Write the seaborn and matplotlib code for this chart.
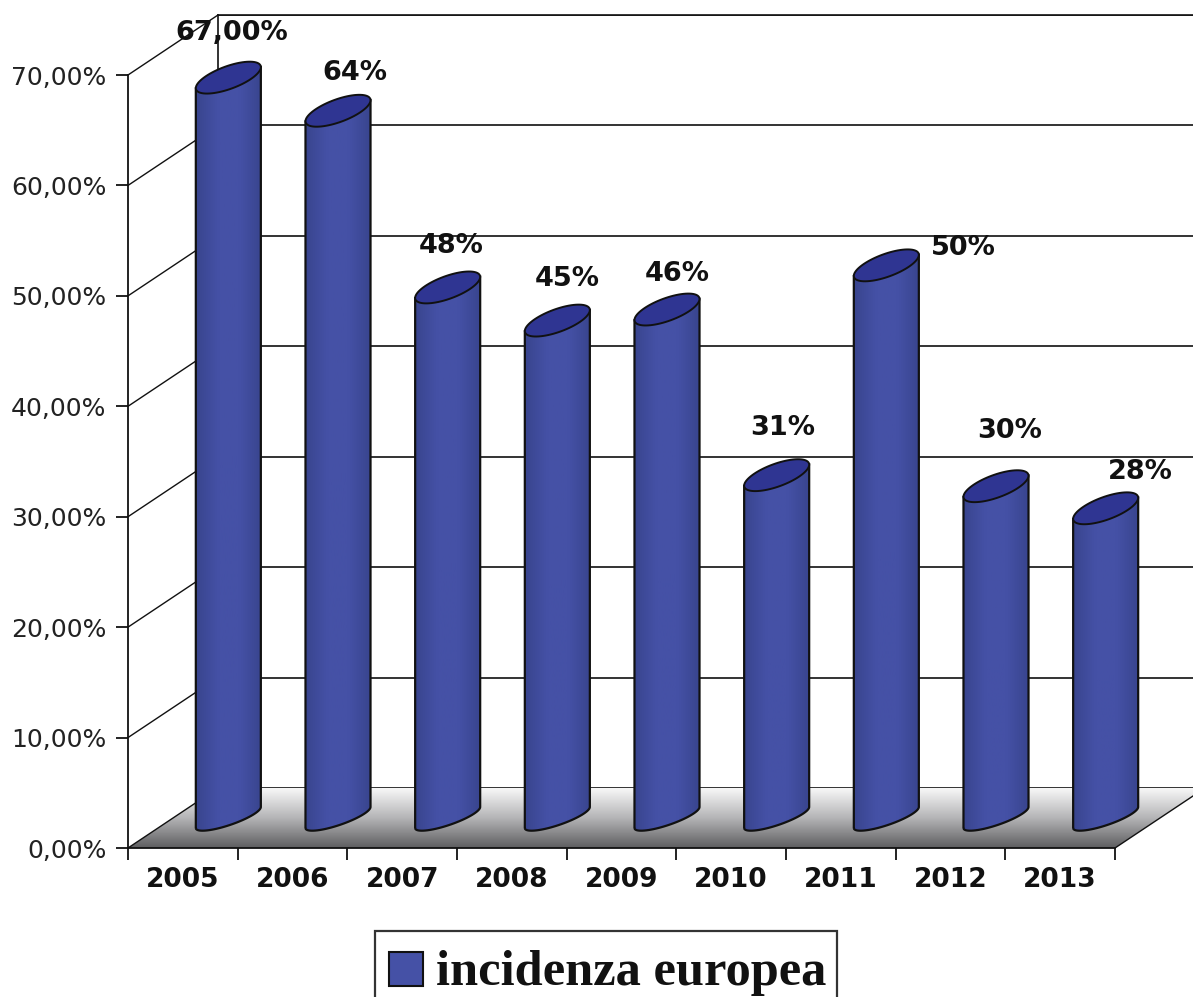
import numpy as np
import pandas as pd
import matplotlib
matplotlib.use("Agg")
import matplotlib.pyplot as plt
from matplotlib.colors import LinearSegmentedColormap
from matplotlib.patches import Patch, PathPatch, Polygon, Rectangle
from matplotlib.path import Path
import seaborn as sns

# DATA
years = ["2005", "2006", "2007", "2008", "2009", "2010", "2011", "2012", "2013"]
incidenza = [67, 64, 48, 45, 46, 31, 50, 30, 28]
bar_labels = ["67,00%", "64%", "48%", "45%", "46%", "31%", "50%", "30%", "28%"]
y_ticks = [0, 10, 20, 30, 40, 50, 60, 70]
y_tick_labels = ["0,00%", "10,00%", "20,00%", "30,00%", "40,00%", "50,00%", "60,00%", "70,00%"]
series_name = "incidenza europea"

# label offsets from the top middle of each bar, in pixels
label_dx = [3, 17, 4, 10, 10, 6, 77, 14, 35]
label_dy = [55, 48, 52, 52, 46, 58, 28, 66, 47]

W, H = 1193, 997
L, T, PW, PH = 128, 75, 987, 773   # front plane of the chart, in pixels
WALL_DX, WALL_DY = 90, 60          # back wall offset
BAR_DX, BAR_DY = 45.5, 20          # bars stand in the middle of the floor
SHEAR, CAP_B, BASE_B = 21, 12, 8   # tilt of the cylinder caps

BODY_EDGE, BODY_MID, CAP = "#39458f", "#4551a6", "#2f3592"
DARK = "#111111"

df = pd.DataFrame({"year": years, "incidenza": incidenza})

sns.set_theme(style="white")
plt.rcParams["font.family"] = ["DejaVu Sans"]

fig = plt.figure(figsize=(W / 100, H / 100), dpi=100)


def add_ax(left, top, width, height):
    ax = fig.add_axes([left / W, 1 - (top + height) / H, width / W, height / H])
    ax.patch.set_alpha(0)
    return ax


# back wall with the grid lines
wall = add_ax(L + WALL_DX, T - WALL_DY, PW, PH)
wall.set_xlim(-0.5, 8.5)
wall.set_ylim(0, 70)
wall.set_yticks(y_ticks)
wall.set_xticks([])
wall.tick_params(left=False, labelleft=False)
wall.grid(axis="y", color=DARK, lw=1.2)
wall.grid(axis="x", visible=False)
for side in wall.spines:
    wall.spines[side].set_visible(side in ["left", "top"])
    wall.spines[side].set_color(DARK)
    wall.spines[side].set_linewidth(1.2)

# floor, side wall diagonals and legend box, drawn in pixels
canvas = add_ax(0, 0, W, H)
canvas.set_xlim(0, W)
canvas.set_ylim(H, 0)
canvas.set_axis_off()
floor = Polygon([(L, T + PH), (L + WALL_DX, T + PH - WALL_DY), (L + PW + WALL_DX, T + PH - WALL_DY), (L + PW, T + PH)],
                closed=True, transform=canvas.transData, fc="none", ec="none")
canvas.add_patch(floor)
floor_cmap = LinearSegmentedColormap.from_list("floor", ["#f7f7f7", "#b4b4b6", "#5f5f61"])
img = canvas.imshow(np.linspace(0, 1, 64).reshape(-1, 1), cmap=floor_cmap, aspect="auto",
                    extent=(L, L + PW + WALL_DX, T + PH, T + PH - WALL_DY))
img.set_clip_path(floor)
canvas.set_xlim(0, W)
canvas.set_ylim(H, 0)
for v in y_ticks:
    y0 = T + PH - v * PH / 70
    canvas.plot([L, L + WALL_DX], [y0, y0 - WALL_DY], color=DARK, lw=1.0)
canvas.plot([L + PW, L + PW + WALL_DX], [T + PH, T + PH - WALL_DY], color=DARK, lw=1.0)
canvas.add_patch(Rectangle((375, 931), 462, 100, fc="white", ec="#333333", lw=1.6))

# front axes: only the ticks and the labels
front = add_ax(L, T, PW, PH)
front.set_xlim(-0.5, 8.5)
front.set_ylim(0, 70)
front.set_yticks(y_ticks)
front.set_yticklabels(y_tick_labels, fontsize=18, color="#222222")
front.set_xticks(np.arange(10) - 0.5)
front.set_xticklabels([])
front.set_xticks(range(9), years, minor=True, fontsize=19, fontweight="bold", color="#111111")
front.tick_params(axis="both", which="major", length=8.6, width=1.3, color=DARK, bottom=True, left=True)
front.tick_params(axis="y", pad=7)
front.tick_params(axis="x", which="minor", length=0, pad=13.5)
for side in front.spines:
    front.spines[side].set_visible(side in ["left", "bottom"])
    front.spines[side].set_color(DARK)
    front.spines[side].set_linewidth(1.3)

# bars
ax = add_ax(L + BAR_DX, T - BAR_DY, PW, PH)
sns.barplot(data=df, x="year", y="incidenza", color=BODY_MID, saturation=1, width=0.593, ax=ax)
ax.set_axis_off()
ax.set_autoscale_on(False)
ax.set_xlim(-0.5, 8.5)
ax.set_ylim(0, 70)

px_y = 70 / PH
dy = SHEAR * px_y
t_low = np.linspace(np.pi, 2 * np.pi, 40)
t_up = np.linspace(0, np.pi, 40)
grad_cmap = LinearSegmentedColormap.from_list("body", [BODY_EDGE, BODY_MID, BODY_MID, BODY_EDGE])

for i, rect in enumerate(list(ax.patches)):
    x0, w, h = rect.get_x(), rect.get_width(), rect.get_height()
    xm = x0 + w / 2


    def cap_x(t):
        return xm + w / 2 * np.cos(t)


    def cap_y(t, base, b):
        return base + dy / 2 + dy / 2 * np.cos(t) + b * px_y * np.sin(t)


    # cylinder outline, the rectangle from seaborn is clipped to it
    body_xy = np.vstack([
        np.column_stack([cap_x(t_low), cap_y(t_low, 0, BASE_B)]),
        [[x0 + w, h + dy], [x0, h]],
    ])
    body = PathPatch(Path(np.vstack([body_xy, body_xy[0]])), fc="none", ec=DARK, lw=1.6, clip_on=False, zorder=4)
    ax.add_patch(body)
    rect.set_clip_path(body)
    grad = ax.imshow(np.linspace(0, 1, 32).reshape(1, -1), cmap=grad_cmap, aspect="auto",
                     extent=(x0, x0 + w, -3, h + dy), zorder=3)
    grad.set_clip_box(fig.bbox)   # the base hangs below y=0
    grad.set_clip_path(body)

    t_all = np.concatenate([t_low, t_up])
    cap = Polygon(np.column_stack([cap_x(t_all), cap_y(t_all, h, CAP_B)]), closed=True, fc=CAP, ec=DARK, lw=1.4,
                  clip_on=False, zorder=5)
    ax.add_patch(cap)

    ax.annotate(bar_labels[i], (xm, h), xytext=(label_dx[i] * 0.72, label_dy[i] * 0.72),
                textcoords="offset points", ha="center", va="center", fontsize=19.5,
                fontweight="bold", color="#111111", zorder=6, annotation_clip=False)

ax.set_xlim(-0.5, 8.5)
ax.set_ylim(0, 70)

# the legend box runs off the bottom of the picture, as in the original
handle = Patch(facecolor=BODY_MID, edgecolor=DARK, linewidth=1.5, label=series_name)
leg = ax.legend(handles=[handle], loc="upper left", bbox_to_anchor=(389 / W, 1 - 950 / H),
                bbox_transform=fig.transFigure, borderaxespad=0, frameon=False,
                handlelength=0.67, handleheight=0.65, handletextpad=0.26,
                borderpad=0, prop={"family": "Liberation Serif", "weight": "bold", "size": 36.4})
leg.get_texts()[0].set_color("#111111")
swatch = leg.legend_handles[0]
swatch.set_y(swatch.get_y() - 1.5)

plt.savefig("out.png", dpi=100)
